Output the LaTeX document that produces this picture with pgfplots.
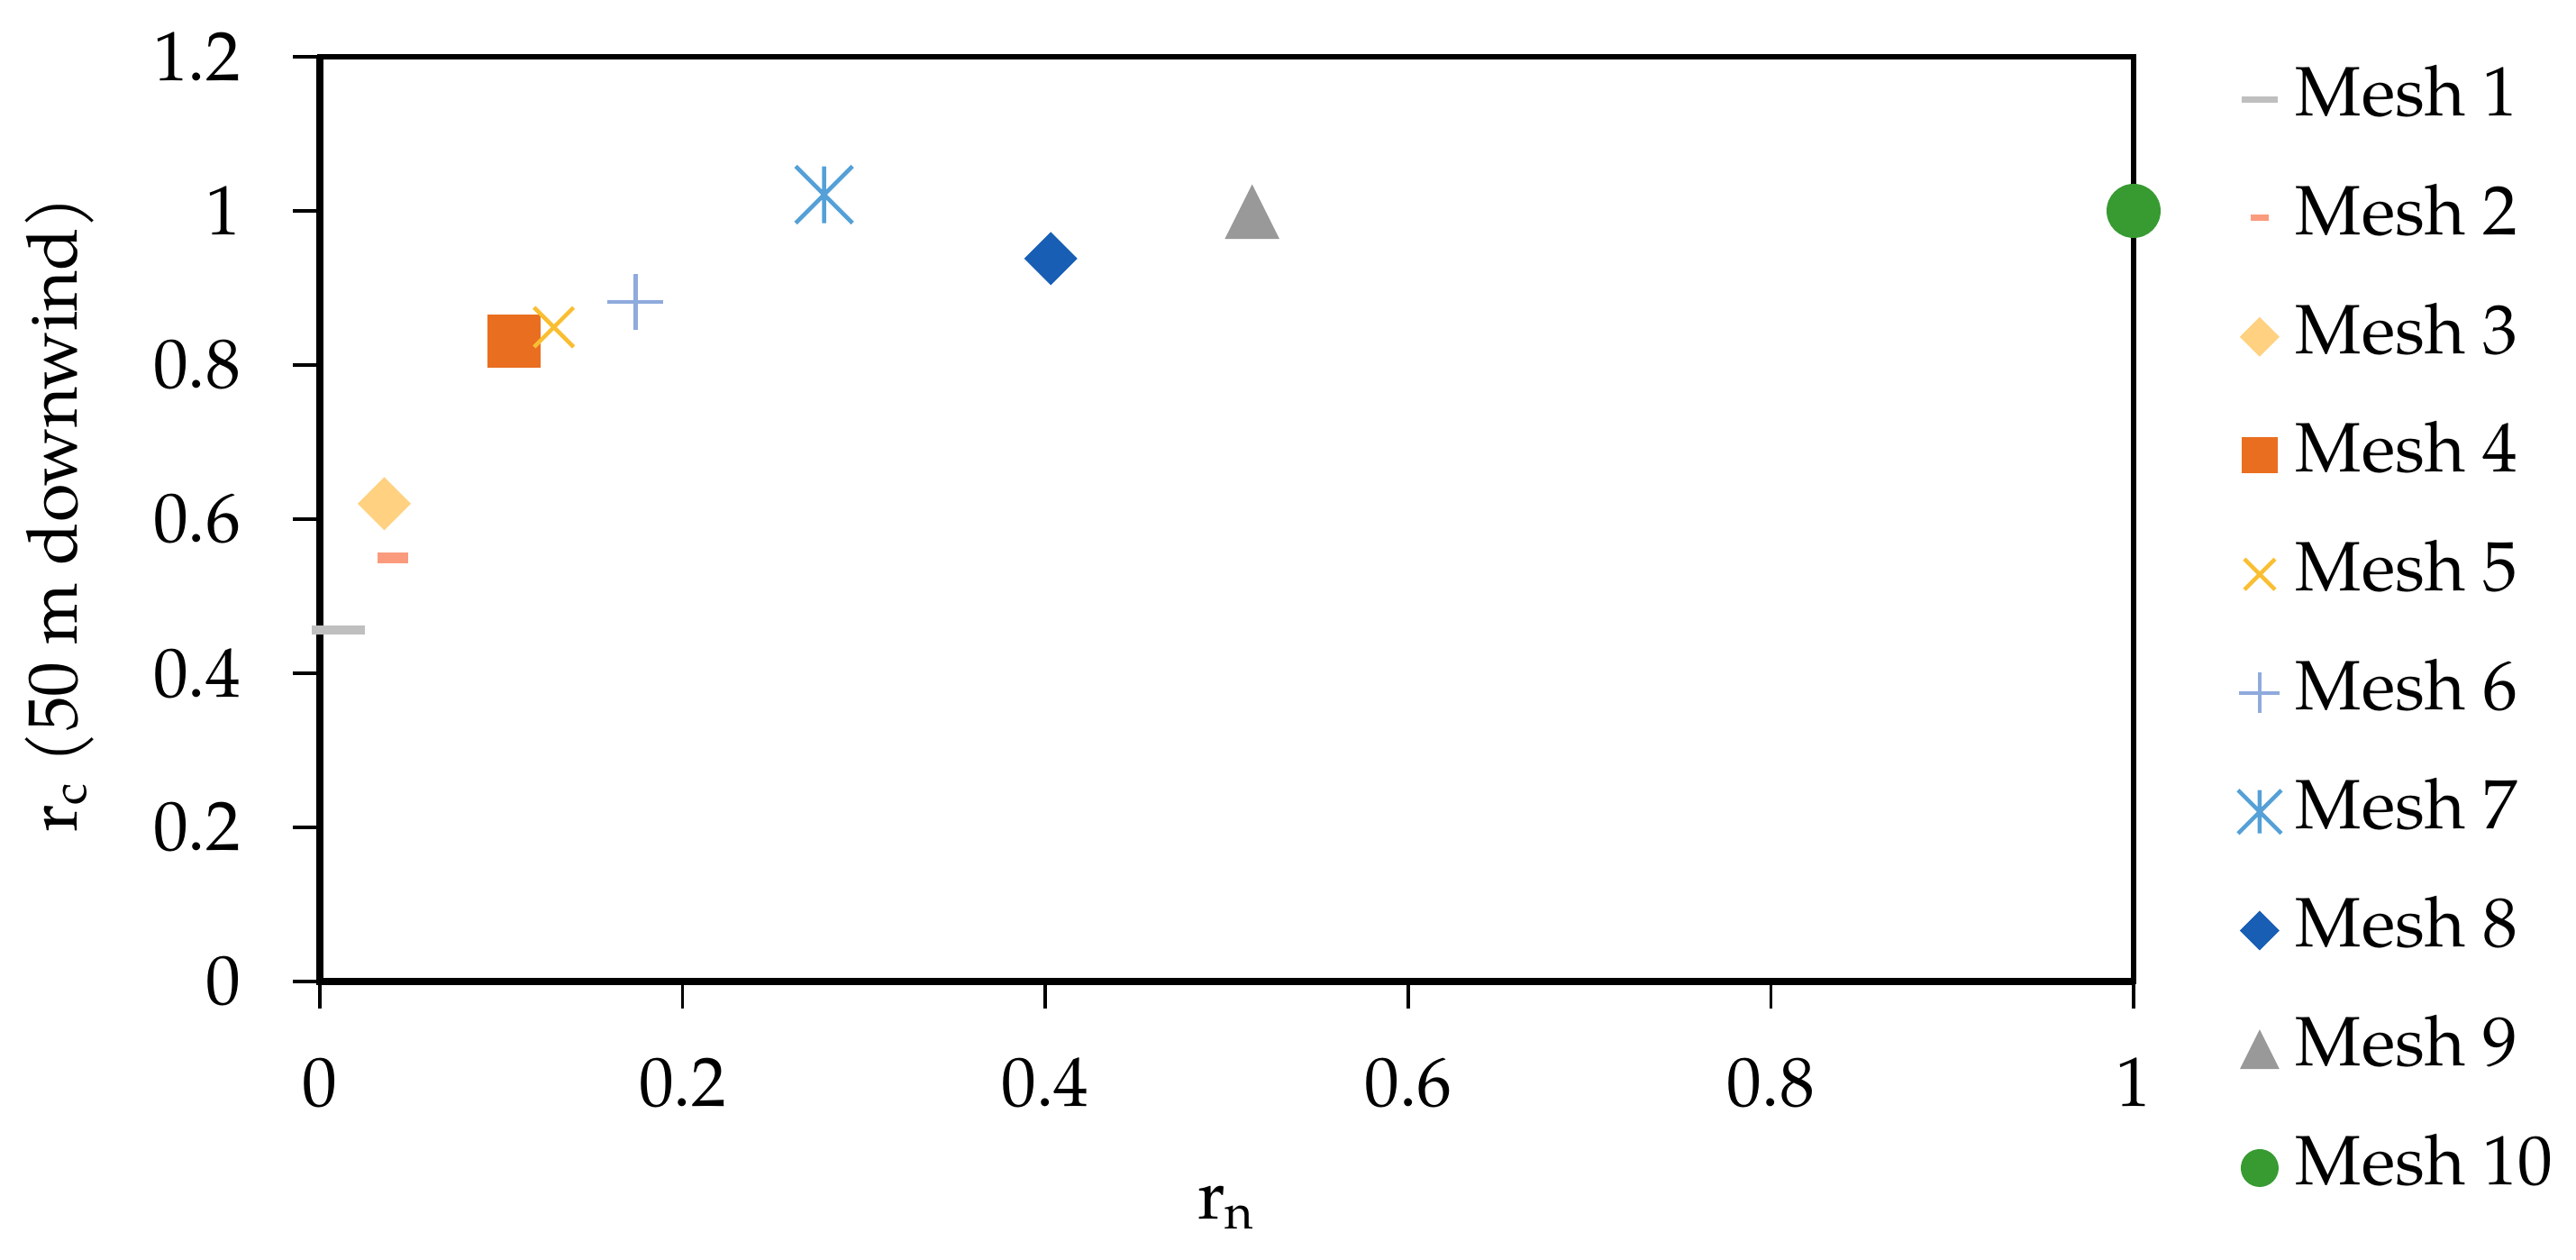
\documentclass[border=0pt]{standalone}
\usepackage{fontspec}
\setmainfont{TeX Gyre Pagella}
\usepackage{pgfplots}
\pgfplotsset{compat=1.18}

\definecolor{m1}{RGB}{191,191,191}
\definecolor{m2}{RGB}{250,155,125}
\definecolor{m3}{RGB}{255,209,128}
\definecolor{m4}{RGB}{233,110,32}
\definecolor{m5}{RGB}{250,190,50}
\definecolor{m6}{RGB}{143,170,220}
\definecolor{m7}{RGB}{84,160,215}
\definecolor{m8}{RGB}{24,94,180}
\definecolor{m9}{RGB}{153,153,153}
\definecolor{m10}{RGB}{55,155,50}

\pgfdeclareplotmark{sqdiam}{%
  \pgfpathmoveto{\pgfqpoint{0pt}{\pgfplotmarksize}}%
  \pgfpathlineto{\pgfqpoint{\pgfplotmarksize}{0pt}}%
  \pgfpathlineto{\pgfqpoint{0pt}{-\pgfplotmarksize}}%
  \pgfpathlineto{\pgfqpoint{-\pgfplotmarksize}{0pt}}%
  \pgfpathclose\pgfusepathqfill}
\pgfdeclareplotmark{sqr}{%
  \pgfpathrectangle{\pgfqpoint{-\pgfplotmarksize}{-\pgfplotmarksize}}{\pgfqpoint{2\pgfplotmarksize}{2\pgfplotmarksize}}%
  \pgfusepathqfill}
\pgfdeclareplotmark{tri}{%
  \pgfpathmoveto{\pgfqpoint{0pt}{\pgfplotmarksize}}%
  \pgfpathlineto{\pgfqpoint{\pgfplotmarksize}{-\pgfplotmarksize}}%
  \pgfpathlineto{\pgfqpoint{-\pgfplotmarksize}{-\pgfplotmarksize}}%
  \pgfpathclose\pgfusepathqfill}
\pgfdeclareplotmark{circ}{%
  \pgfpathcircle{\pgfpointorigin}{\pgfplotmarksize}\pgfusepathqfill}
\pgfdeclareplotmark{ast}{%
  \pgfpathmoveto{\pgfqpoint{0pt}{\pgfplotmarksize}}%
  \pgfpathlineto{\pgfqpoint{0pt}{-\pgfplotmarksize}}%
  \pgfpathmoveto{\pgfqpoint{-\pgfplotmarksize}{-\pgfplotmarksize}}%
  \pgfpathlineto{\pgfqpoint{\pgfplotmarksize}{\pgfplotmarksize}}%
  \pgfpathmoveto{\pgfqpoint{-\pgfplotmarksize}{\pgfplotmarksize}}%
  \pgfpathlineto{\pgfqpoint{\pgfplotmarksize}{-\pgfplotmarksize}}%
  \pgfusepathqstroke}

\pgfplotsset{
  mk/.style={only marks,
    legend image code/.code={\draw[##1] plot coordinates {(0pt,0pt)};}},
}

\newcommand{\fs}{\fontsize{15.5}{18}\selectfont}

\begin{document}
\begin{tikzpicture}
\begin{axis}[
  scale only axis,
  width=402.6pt, height=205.2pt,
  xmin=0, xmax=1, ymin=0, ymax=1.2,
  xtick={0,0.2,0.4,0.6,0.8,1},
  ytick={0,0.2,0.4,0.6,0.8,1,1.2},
  xticklabels={0,0.2,0.4,0.6,0.8,1},
  yticklabels={0,0.2,0.4,0.6,0.8,1,1.2},
  tick align=outside,
  major tick length=6pt,
  xtick pos=bottom, ytick pos=left,
  tick style={black, line width=0.7pt},
  axis line style={line width=1.1pt},
  clip=false,
  tick label style={font=\fs},
  /pgf/number format/assume math mode=true,
  yticklabel style={anchor=east, inner sep=0pt, xshift=-11.4pt},
  xticklabel style={anchor=north, inner sep=0pt, yshift=-10.8pt},
  xlabel={r\textsubscript{n}},
  ylabel={r\textsubscript{c} (50 m downwind)},
  label style={font=\fs},
  xlabel style={at={(rel axis cs:0.5,-0.2573)}, anchor=base},
  ylabel style={at={(rel axis cs:-0.1341,0.505)}, anchor=base},
  legend cell align=left,
  legend style={
    at={(rel axis cs:1.0576,0.98806)}, anchor=north west,
    draw=none, fill=none, inner sep=0pt, outer sep=0pt,
    row sep=12.35pt, column sep=3.2pt,
    font=\fs,
    nodes={inner sep=0pt, text height=10.7pt, text depth=3.3pt},
  },
]
\path (rel axis cs:-0.17636,-0.30117) rectangle (rel axis cs:1.24392,1.06140);
\draw[line width=1.6pt] (rel axis cs:0,1) -- (rel axis cs:0,0) -- (rel axis cs:1,0);

\addplot[mk, color=m1, mark=-, mark size=5.9pt, mark options={line width=2pt},
  legend image post style={mark size=4pt, mark options={line width=1.4pt}}]
  coordinates {(0.01,0.456)};
\addlegendentry{Mesh 1}
\addplot[mk, color=m2, mark=-, mark size=3.4pt, mark options={line width=2.4pt},
  legend image post style={mark size=2pt, mark options={line width=1.4pt}}]
  coordinates {(0.04,0.55)};
\addlegendentry{Mesh 2}
\addplot[mk, color=m3, mark=sqdiam, mark size=5.9pt,
  legend image post style={mark size=4.4pt}]
  coordinates {(0.0355,0.62)};
\addlegendentry{Mesh 3}
\addplot[mk, color=m4, mark=sqr, mark size=5.9pt,
  legend image post style={mark size=4pt}]
  coordinates {(0.107,0.831)};
\addlegendentry{Mesh 4}
\addplot[mk, color=m5, mark=x, mark size=6.2pt, mark options={line width=0.9pt},
  legend image post style={mark size=4.8pt}]
  coordinates {(0.129,0.849)};
\addlegendentry{Mesh 5}
\addplot[mk, color=m6, mark=+, mark size=6.2pt, mark options={line width=0.9pt},
  legend image post style={mark size=4.5pt}]
  coordinates {(0.174,0.882)};
\addlegendentry{Mesh 6}
\addplot[mk, color=m7, mark=ast, mark size=6.3pt, mark options={line width=0.9pt},
  legend image post style={mark size=4.8pt}]
  coordinates {(0.278,1.021)};
\addlegendentry{Mesh 7}
\addplot[mk, color=m8, mark=sqdiam, mark size=5.9pt,
  legend image post style={mark size=4.4pt}]
  coordinates {(0.403,0.938)};
\addlegendentry{Mesh 8}
\addplot[mk, color=m9, mark=tri, mark size=6.05pt,
  legend image post style={mark size=4.4pt}]
  coordinates {(0.514,0.999)};
\addlegendentry{Mesh 9}
\addplot[mk, color=m10, mark=circ, mark size=6pt,
  legend image post style={mark size=4.2pt}]
  coordinates {(1,1)};
\addlegendentry{Mesh 10}
\end{axis}
\end{tikzpicture}
\end{document}
